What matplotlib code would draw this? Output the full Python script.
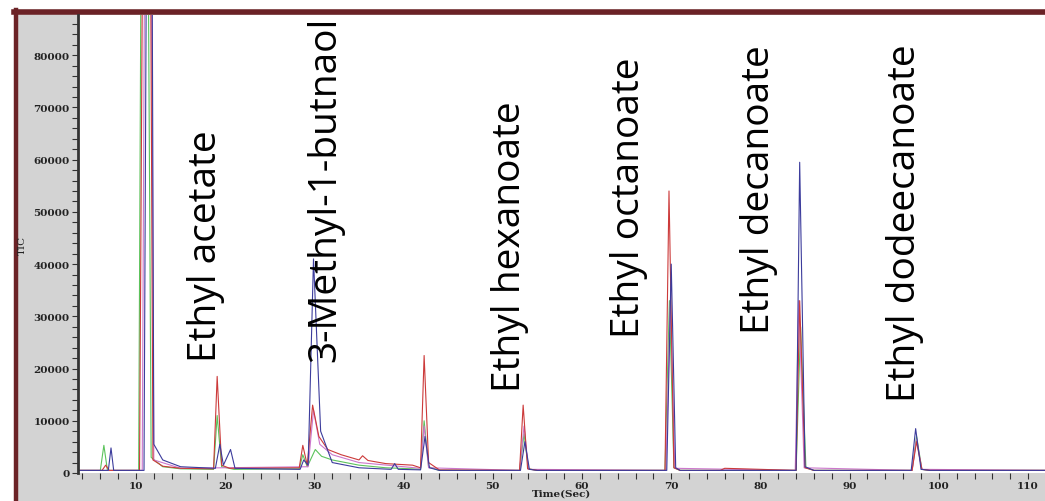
import matplotlib.pyplot as plt
from matplotlib.patches import Rectangle
from matplotlib.ticker import MultipleLocator

# retention time (s) / TIC points, one list pair per run
t_red = [3.6, 6.2, 6.6, 7.0, 10.4, 10.9, 11.5, 11.9, 13.0, 15.0, 18.7, 19.1, 19.6, 20.5,
         28.3, 28.7, 29.2, 29.8, 30.5, 31.5, 33.0, 35.0, 35.4, 36.0, 38.0, 41.0, 41.9, 42.3,
         42.8, 44.0, 53.0, 53.4, 53.9, 55.0, 69.3, 69.75, 70.3, 71.0, 75.5, 76.0, 84.0, 84.4,
         85.0, 86.0, 97.0, 97.5, 98.1, 99.0, 112.0]
v_red = [500, 500, 1500, 500, 500, 150000, 150000, 2500, 1300, 900, 800, 18500, 1500, 900,
         1000, 5300, 1500, 13000, 7000, 4500, 3500, 2500, 3300, 2400, 1800, 1500, 1000, 22500,
         2000, 600, 500, 13000, 800, 500, 500, 54000, 1000, 500, 500, 900, 500, 33000,
         1000, 500, 500, 6000, 700, 500, 500]

t_green = [3.6, 6.0, 6.4, 6.8, 10.3, 10.7, 11.2, 11.7, 13.0, 15.0, 18.7, 19.1, 19.6, 21.0,
           28.3, 28.7, 29.2, 30.1, 30.8, 32.0, 35.0, 38.0, 41.0, 41.9, 42.3, 42.8, 44.0,
           53.0, 53.5, 54.0, 55.0, 69.3, 69.8, 70.3, 71.0, 84.0, 84.5, 85.1, 86.0,
           97.0, 97.5, 98.1, 99.0, 112.0]
v_green = [500, 500, 5300, 500, 500, 150000, 150000, 3000, 1200, 800, 700, 11000, 1200, 700,
           800, 3500, 1200, 4500, 3200, 2500, 1500, 1000, 800, 700, 10000, 1200, 500,
           500, 7500, 800, 500, 500, 33000, 1000, 500, 500, 28000, 1000, 500,
           500, 7000, 700, 500, 500]

t_blue = [3.6, 6.9, 7.2, 7.5, 10.9, 11.3, 11.7, 12.0, 13.0, 15.0, 18.9, 19.4, 19.8, 20.2,
          20.6, 21.1, 28.4, 28.8, 29.3, 29.9, 30.7, 32.0, 35.0, 38.6, 39.0, 39.4, 41.9, 42.4,
          42.9, 44.0, 53.1, 53.6, 54.1, 55.0, 69.5, 70.0, 70.5, 71.0, 84.0, 84.4, 85.0, 86.0,
          96.9, 97.4, 98.0, 99.0, 112.0]
v_blue = [500, 500, 4800, 500, 500, 150000, 150000, 5500, 2500, 1200, 900, 5500, 1500, 3000,
          4500, 900, 700, 2500, 1500, 41000, 8000, 2000, 1000, 700, 1800, 700, 600, 7000,
          1000, 500, 500, 6000, 700, 500, 500, 40000, 1000, 500, 500, 59500, 1200, 500,
          500, 8500, 700, 500, 500]

t_pink = [3.6, 10.7, 11.1, 11.6, 12.0, 15.0, 29.3, 29.9, 30.6, 32.0, 35.0, 41.9, 42.3, 42.8,
          53.0, 53.5, 54.0, 69.4, 69.9, 70.4, 83.9, 84.3, 84.9, 97.0, 97.5, 98.1, 112.0]
v_pink = [500, 500, 150000, 150000, 2500, 900, 1200, 12000, 5500, 3500, 2000, 900, 9000, 1000,
          500, 9000, 700, 500, 33000, 900, 500, 33000, 1000, 500, 6500, 700, 500]

compounds = ["Ethyl acetate", "3-Methyl-1-butnaol", "Ethyl hexanoate",
             "Ethyl octanoate", "Ethyl decanoate", "Ethyl dodeecanoate"]
label_t = [17.8, 31.2, 51.9, 65.3, 79.8, 96.2]
label_v = [21400, 21400, 15700, 26000, 26800, 13800]

W, H = 1045, 502
fig = plt.figure(figsize=(W / 100, H / 100), dpi=100, facecolor="white")

# grey surround with the dark red frame
fig.patches.append(Rectangle((14 / W, 0), 1 - 14 / W, 1 - 12 / H, transform=fig.transFigure,
                             facecolor="#d3d3d3", edgecolor="none", zorder=0))
fig.add_artist(plt.Line2D([16 / W, 16 / W], [0, 1 - 11 / H], color="#6b2226", lw=3.2))
fig.add_artist(plt.Line2D([14 / W, 1], [1 - 13 / H, 1 - 13 / H], color="#6b2226", lw=4))

ax = fig.add_axes([78 / W, 28 / H, (W - 78) / W, (474 - 16) / H], facecolor="white")
ax.set_zorder(5)

ax.plot(t_green, v_green, color="#5cc35c", lw=0.8)
ax.plot(t_pink, v_pink, color="#cc77cc", lw=0.8)
ax.plot(t_red, v_red, color="#cc3a3a", lw=0.8)
ax.plot(t_blue, v_blue, color="#3c3c9c", lw=0.8)

for name, t, v in zip(compounds, label_t, label_v):
    ax.text(t, v, name, rotation=90, ha="center", va="bottom",
            fontsize=28, family="Open Sans", color="black")

ax.set_xlim(3.5, 111.9)
ax.set_ylim(0, 87700)
ax.xaxis.set_major_locator(MultipleLocator(10))
ax.xaxis.set_minor_locator(MultipleLocator(2))
ax.yaxis.set_major_locator(MultipleLocator(10000))
ax.yaxis.set_minor_locator(MultipleLocator(2000))
ax.tick_params(which="both", direction="out", color="#333333", width=0.8,
               labelsize=7.5, pad=2)
ax.tick_params(which="major", length=4)
ax.tick_params(which="minor", length=4)
for lab in ax.get_xticklabels() + ax.get_yticklabels():
    lab.set_family("DejaVu Serif")
    lab.set_fontweight("bold")
    lab.set_color("#222222")

for s in ["top", "right", "bottom"]:
    ax.spines[s].set_visible(False)
ax.spines["left"].set_color("#333333")
ax.spines["left"].set_linewidth(2)

ax.set_xlabel("Time(Sec)", family="DejaVu Serif", fontweight="bold", fontsize=7.5,
              labelpad=-1, color="#222222")
ax.set_ylabel("TIC", family="DejaVu Serif", fontsize=7.5, color="#222222")
ax.yaxis.set_label_coords(-0.053, 0.5)

fig.savefig("out.png", dpi=100, facecolor="white")
